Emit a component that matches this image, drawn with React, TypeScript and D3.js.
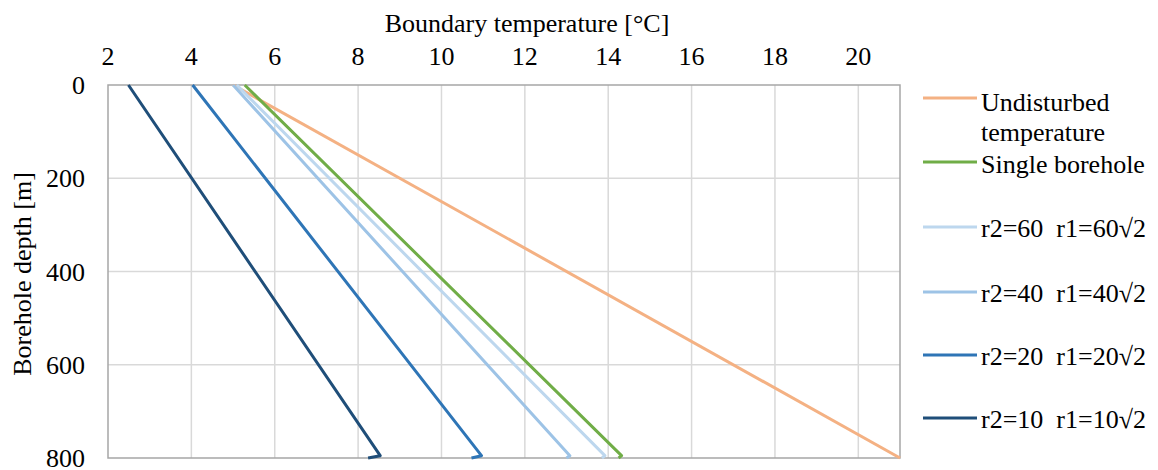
import React from "react";
import * as d3 from "d3";

const depths = [0, 795, 800];
const undisturbedDepths = [0, 800];
const undisturbed = [5.0, 21.0];
const singleBorehole = [5.28, 14.32, 14.25];
const r60 = [5.09, 13.92, 13.85];
const r40 = [5.0, 13.08, 13.0];
const r20 = [4.03, 10.96, 10.72];
const r10 = [2.49, 8.53, 8.24];

const xTicks = [2, 4, 6, 8, 10, 12, 14, 16, 18, 20];
const yTicks = [0, 200, 400, 600, 800];

const seriesNames = ["Undisturbed temperature", "Single borehole", "r2=60  r1=60√2", "r2=40  r1=40√2", "r2=20  r1=20√2", "r2=10  r1=10√2"];
const seriesColors = ["#F4B183", "#70AD47", "#BDD7EE", "#9DC3E6", "#2E75B6", "#1F4E79"];

const W = 1158, H = 470;
const M = { left: 108, top: 85, right: 900, bottom: 458 };
const FONT = "'Liberation Serif', 'Times New Roman', serif";
const FS = 26;

export default function App() {
  const x = d3.scaleLinear().domain([2, 21]).range([M.left, M.right]);
  const y = d3.scaleLinear().domain([0, 800]).range([M.top, M.bottom]);
  const line = d3.line<[number, number]>().x(d => x(d[0])).y(d => y(d[1]));

  const series = [
    { vals: undisturbed, ds: undisturbedDepths },
    { vals: singleBorehole, ds: depths },
    { vals: r60, ds: depths },
    { vals: r40, ds: depths },
    { vals: r20, ds: depths },
    { vals: r10, ds: depths },
  ];
  const drawOrder = [0, 2, 3, 1, 4, 5];

  const legendY = [98, 162, 227, 292, 355, 418];
  const legendBase = [111, 173, 237, 302, 365, 428];
  const ts: React.CSSProperties = { fontFamily: FONT, whiteSpace: "pre" };

  return (
    <svg width={W} height={H} style={{ position: "absolute", left: 0, top: 0, background: "#fff" }}>
      <rect x={0} y={0} width={W} height={H} fill="#fff" />
      {xTicks.slice(1).map(t => (
        <line key={"gx" + t} x1={x(t)} x2={x(t)} y1={M.top} y2={M.bottom} stroke="#D9D9D9" strokeWidth={1.5} />
      ))}
      {yTicks.slice(1, -1).map(t => (
        <line key={"gy" + t} x1={M.left} x2={M.right} y1={y(t)} y2={y(t)} stroke="#D9D9D9" strokeWidth={1.5} />
      ))}
      <rect x={M.left} y={M.top} width={M.right - M.left} height={M.bottom - M.top} fill="none" stroke="#A6A6A6" strokeWidth={1.5} />
      {drawOrder.map(i => {
        const s = series[i];
        const pts: [number, number][] = s.vals.map((v, j) => [v, s.ds[j]]);
        return <path key={"s" + i} d={line(pts) || ""} fill="none" stroke={seriesColors[i]} strokeWidth={3} strokeLinejoin="round" />;
      })}
      {xTicks.map(t => (
        <text key={"tx" + t} x={x(t)} y={65} style={ts} fontSize={FS} textAnchor="middle" fill="#000">{t}</text>
      ))}
      {yTicks.map(t => (
        <text key={"ty" + t} x={85} y={y(t) + 9} style={ts} fontSize={FS} textAnchor="end" fill="#000">{t}</text>
      ))}
      <text x={527} y={32} style={ts} fontSize={FS} textAnchor="middle" fill="#000">Boundary temperature [°C]</text>
      <text transform={`translate(31,${274}) rotate(-90)`} style={ts} fontSize={FS} textAnchor="middle" fill="#000">Borehole depth [m]</text>
      {seriesNames.map((n, i) => (
        <g key={"lg" + i}>
          <line x1={923} x2={977} y1={legendY[i]} y2={legendY[i]} stroke={seriesColors[i]} strokeWidth={3} />
          {i === 0 ? (
            <>
              <text x={981} y={legendBase[i]} style={ts} fontSize={FS} fill="#000">Undisturbed</text>
              <text x={981} y={legendBase[i] + 30} style={ts} fontSize={FS} fill="#000">temperature</text>
            </>
          ) : (
            <text x={981} y={legendBase[i]} style={ts} fontSize={FS} fill="#000">{n}</text>
          )}
        </g>
      ))}
    </svg>
  );
}
